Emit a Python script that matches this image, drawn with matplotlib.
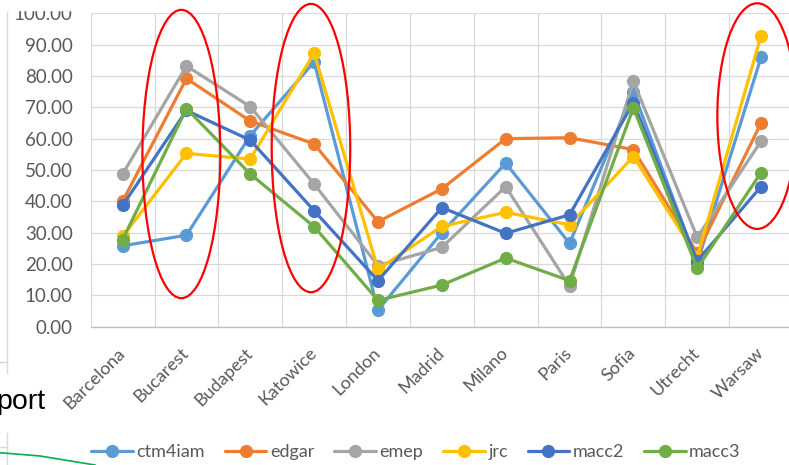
import matplotlib.pyplot as plt
from matplotlib.patches import Ellipse, Rectangle
from matplotlib.lines import Line2D

plt.rcParams['font.family'] = ['Lato', 'DejaVu Sans']

cities = ["Barcelona", "Bucarest", "Budapest", "Katowice", "London", "Madrid",
          "Milano", "Paris", "Sofia", "Utrecht", "Warsaw"]

ctm4iam = [25.8, 29.2, 61.0, 84.5, 5.3, 30.0, 52.2, 26.6, 75.0, 20.3, 86.0]
edgar = [40.0, 79.2, 65.6, 58.3, 33.5, 44.0, 60.0, 60.3, 56.5, 23.5, 65.0]
emep = [48.7, 83.2, 70.2, 45.5, 19.5, 25.3, 44.7, 13.0, 78.3, 28.5, 59.2]
jrc = [28.8, 55.3, 53.5, 87.3, 18.3, 32.0, 36.5, 32.5, 54.3, 22.3, 92.8]
macc2 = [38.7, 69.0, 59.5, 37.0, 14.7, 38.0, 29.8, 35.7, 71.5, 21.0, 44.7]
macc3 = [27.8, 69.6, 48.7, 31.9, 8.4, 13.3, 21.9, 14.7, 69.8, 18.6, 49.2]

series = [("ctm4iam", ctm4iam, "#5B9BD5"),
          ("edgar", edgar, "#ED7D31"),
          ("emep", emep, "#A5A5A5"),
          ("jrc", jrc, "#FFC000"),
          ("macc2", macc2, "#4472C4"),
          ("macc3", macc3, "#70AD47")]

W, H = 789, 465
fig = plt.figure(figsize=(W / 100, H / 100), dpi=100)
ax = fig.add_axes([90.7 / W, 1 - 326.7 / H, 702.3 / W, 313.4 / H])

x = list(range(len(cities)))
for name, vals, col in series:
    ax.plot(x, vals, color=col, lw=2.3, marker="o", markersize=8.5,
            label=name, solid_capstyle="round")

ax.set_xlim(-0.5, len(cities) - 0.5)
ax.set_ylim(0, 100)
ax.set_yticks(range(0, 101, 10))
ax.set_yticklabels([f"{v:.2f}" for v in range(0, 101, 10)])
ax.set_xticks(x)
ax.set_xticklabels(cities, rotation=45, ha="right", va="center",
                   rotation_mode="anchor")
ax.set_xticks([i + 0.5 for i in range(-1, len(cities))], minor=True)
ax.tick_params(axis="both", which="both", length=0, labelcolor="#595959")
ax.tick_params(axis="y", pad=13, labelsize=13.5)
ax.tick_params(axis="x", pad=17, labelsize=13)
ax.grid(axis="y", color="#D9D9D9", lw=0.9)
ax.grid(axis="x", which="minor", color="#D9D9D9", lw=0.9)
ax.set_axisbelow(True)
for s in ["top", "right"]:
    ax.spines[s].set_visible(False)
ax.spines["left"].set_color("#D9D9D9")
ax.spines["bottom"].set_color("#BFBFBF")
ax.spines["bottom"].set_linewidth(1.0)

# red ellipses
for cx, cy, w, h in [(0.92, 55.1, 1.22, 92.0), (2.95, 57.0, 1.23, 92.0),
                     (9.94, 67.2, 1.25, 72.0)]:
    ax.add_patch(Ellipse((cx, cy), w, h, fill=False, edgecolor="#FF0000",
                         lw=1.6, clip_on=False, zorder=5))

fig.legend(loc="center", bbox_to_anchor=(416 / W, 1 - 452 / H), ncol=6,
           frameon=False, fontsize=13, handlelength=2.3, handletextpad=0.2,
           columnspacing=1.1, labelcolor="#595959")

# bits of the slide behind the chart
fig.add_artist(Rectangle((0, 1 - 10 / H), 85 / W, 10 / H, color="white",
                         zorder=10))
fig.add_artist(Line2D([7 / W, 7 / W], [1 - 12 / H, 1 - 373 / H],
                      color="#D9D9D9", lw=1))
fig.add_artist(Line2D([0, 7 / W], [1 - 362 / H, 1 - 362 / H], color="#D9D9D9", lw=1))
fig.add_artist(Line2D([7 / W, 7 / W], [1 - 433 / H, 0], color="#D9D9D9", lw=1))
fig.add_artist(Line2D([0, 7 / W], [1 - 447 / H, 1 - 447 / H], color="#D9D9D9", lw=1))
fig.add_artist(Line2D([0, 40 / W, 95 / W], [1 - 452.7 / H, 1 - 456 / H, 0],
                      color="#00B050", lw=1.2))
fig.text(45 / W, 1 - 402 / H, "port", ha="right", va="center", fontsize=20.5,
         family=["Liberation Sans", "DejaVu Sans"], color="black")

fig.savefig("out.png", dpi=100)
